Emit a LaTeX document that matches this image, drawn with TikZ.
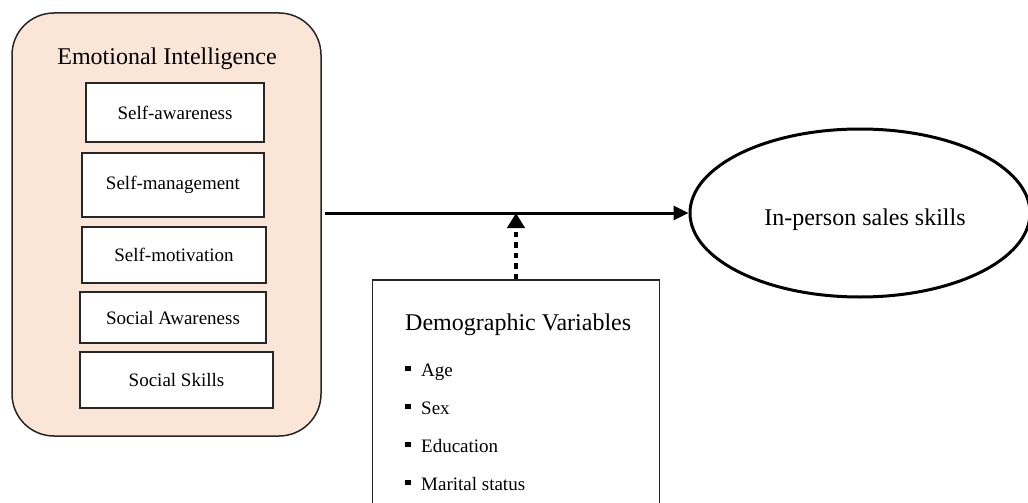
\documentclass[tikz,border=0pt]{standalone}
\usepackage{fontspec}
\setmainfont{Liberation Serif}
\usetikzlibrary{arrows.meta,shapes.geometric}
\definecolor{peach}{HTML}{FBE5D6}
\definecolor{edge}{HTML}{262626}
\tikzset{
  big/.style={draw=edge,line width=1.5pt,fill=peach,rounded corners=42pt,minimum width=309pt,minimum height=423pt,inner sep=0pt},
  inbox/.style={draw=edge,line width=1.5pt,fill=white,inner sep=0pt,font=\fontsize{19}{22}\selectfont},
  bigtext/.style={font=\fontsize{24}{28}\selectfont,inner sep=0pt},
  item/.style={font=\fontsize{19}{22}\selectfont,inner sep=0pt,anchor=base west},
  mainarrow/.style={line width=3pt,-{Triangle[length=15pt,width=14pt]}},
  modarrow/.style={line width=4.5pt,dash pattern=on 5.5pt off 5pt,-{Triangle[length=15pt,width=17pt]}},
}
\newcommand{\blt}{\rule[5pt]{5.5pt}{5.5pt}\hspace{10.5pt}}
\begin{document}
\begin{tikzpicture}[x=1pt,y=-1pt]
\useasboundingbox (0,0) rectangle (1028,503);
% Emotional Intelligence group
\node[big] (ei) at (166.5,224.5) {};
\node[bigtext,anchor=base] (eit) at (167,64) {Emotional Intelligence};
\node[inbox,minimum width=178pt,minimum height=59pt] (sa) at (175,112.5) {Self-awareness};
\node[inbox,minimum width=182pt,minimum height=64pt] (sm) at (173,185) {Self-management};
\node[inbox,minimum width=184pt,minimum height=56pt] (smo) at (174,255) {Self-motivation};
\node[inbox,minimum width=186pt,minimum height=51pt] (saw) at (173,317.5) {Social Awareness};
\node[inbox,minimum width=193pt,minimum height=56pt] (ss) at (176.5,380) {Social Skills};
% outcome
\node[ellipse,draw=black,line width=3pt,minimum width=340pt,minimum height=168pt,inner sep=0pt] (out) at (860,213) {};
\node[bigtext,anchor=base] (outt) at (865,225) {In-person sales skills};
% demographic box
\node[draw=edge,line width=1.5pt,minimum width=287pt,minimum height=235pt,inner sep=0pt,anchor=north] (demo) at (516,279) {};
\node[bigtext,anchor=base west] (demot) at (405,330) {Demographic Variables};
\node[item] (age) at (405,376) {\blt Age};
\node[item] (sex) at (405,414) {\blt Sex};
\node[item] (edu) at (405,452) {\blt Education};
\node[item] (mar) at (405,490) {\blt Marital status};
% connectors
\coordinate (start) at (325,213);
\coordinate (meet) at (516,213);
\draw[mainarrow] (start) -- (out.west);
\draw[modarrow] (demo.north) -- (meet);
\end{tikzpicture}
\end{document}
